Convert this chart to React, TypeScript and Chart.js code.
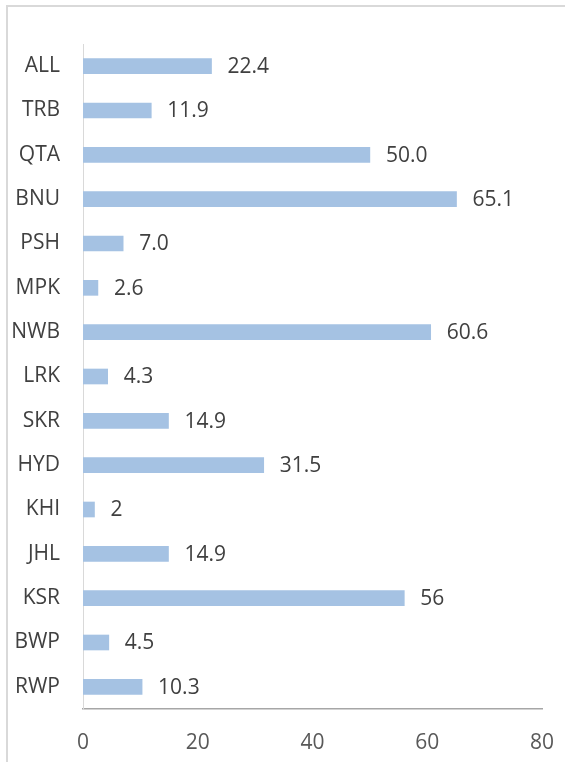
import React, { useEffect, useRef } from "react";
import { Chart, registerables } from "chart.js";

Chart.register(...registerables);

const categories = ["ALL", "TRB", "QTA", "BNU", "PSH", "MPK", "NWB", "LRK", "SKR", "HYD", "KHI", "JHL", "KSR", "BWP", "RWP"];
const values = [22.4, 11.9, 50.0, 65.1, 7.0, 2.6, 60.6, 4.3, 14.9, 31.5, 2, 14.9, 56, 4.5, 10.3];
const valueLabels = ["22.4", "11.9", "50.0", "65.1", "7.0", "2.6", "60.6", "4.3", "14.9", "31.5", "2", "14.9", "56", "4.5", "10.3"];
const xTicks = [0, 20, 40, 60, 80];

const FONT = "'Open Sans', 'Noto Sans', sans-serif";

const labelPlugin = {
  id: "valueLabels",
  afterDatasetsDraw(chart: any) {
    const ctx = chart.ctx;
    const meta = chart.getDatasetMeta(0);
    ctx.save();
    ctx.font = `21px ${FONT}`;
    ctx.fillStyle = "#404040";
    ctx.textAlign = "left";
    ctx.textBaseline = "middle";
    meta.data.forEach((bar: any, i: number) => {
      ctx.fillText(valueLabels[i], bar.x + 16, bar.y + 1);
    });
    ctx.restore();
  },
};

export default function App() {
  const ref = useRef<HTMLCanvasElement>(null);
  useEffect(() => {
    const chart = new Chart(ref.current as HTMLCanvasElement, {
      type: "bar",
      data: {
        labels: categories,
        datasets: [
          {
            data: values,
            backgroundColor: "#a5c2e3",
            borderWidth: 0,
            barThickness: 15,
          },
        ],
      },
      options: {
        indexAxis: "y",
        responsive: false,
        animation: false,
        layout: { padding: { top: 44, right: 23, left: 0, bottom: 0 } },
        plugins: { legend: { display: false }, tooltip: { enabled: false } },
        scales: {
          x: {
            min: 0,
            max: 80,
            afterBuildTicks: (s: any) => {
              s.ticks = xTicks.map((v) => ({ value: v }));
            },
            ticks: { padding: 21, color: "#595959", font: { family: FONT, size: 21 }, maxRotation: 0 },
            grid: { display: false, drawTicks: false },
            border: { display: true, color: "#a6a6a6", width: 1.5 },
            afterFit: (s: any) => {
              s.height = 53;
              s.paddingLeft = 0;
              s.paddingRight = 0;
            },
          },
          y: {
            ticks: { padding: 23, color: "#404040", font: { family: FONT, size: 21 } },
            grid: { display: false, drawTicks: false },
            border: { display: true, color: "#d9d9d9", width: 1 },
            afterFit: (s: any) => {
              s.width = 83;
              s.paddingTop = 0;
              s.paddingBottom = 0;
            },
          },
        },
      },
      plugins: [labelPlugin],
    } as any);
    return () => chart.destroy();
  }, []);

  return (
    <div style={{ position: "fixed", left: 0, top: 0, width: 565, height: 762, overflow: "hidden", background: "#fff" }}>
      <div
        style={{
          position: "absolute",
          left: 6,
          top: 5,
          width: 700,
          height: 900,
          border: "2px solid #d9d9d9",
        }}
      />
      <canvas ref={ref} width={565} height={762} style={{ position: "absolute", left: 0, top: 0, width: 565, height: 762 }} />
    </div>
  );
}
